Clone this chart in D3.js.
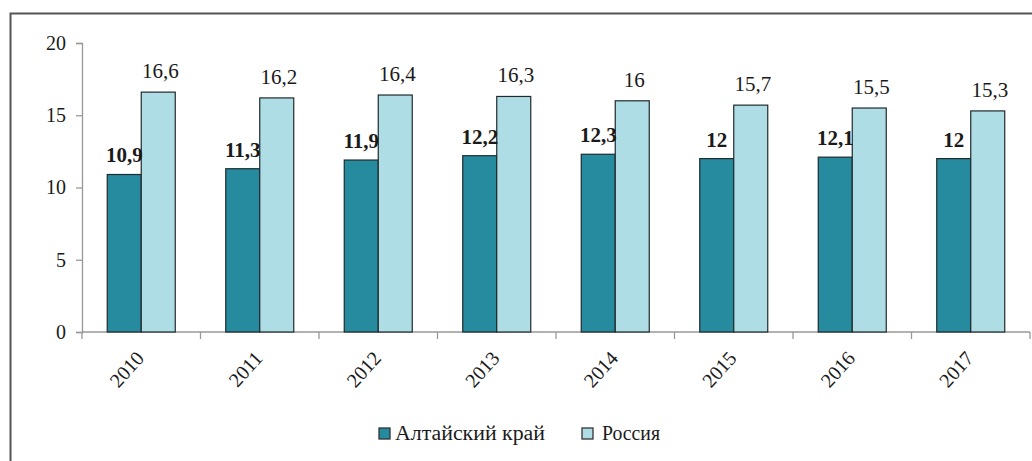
<!DOCTYPE html>
<html>
<head>
<meta charset="utf-8">
<script src="https://cdn.jsdelivr.net/npm/d3@7"></script>
</head>
<body style="margin:0">
<svg width="1032" height="461"></svg>
<script>
const years = ["2010", "2011", "2012", "2013", "2014", "2015", "2016", "2017"];
const altai = [10.9, 11.3, 11.9, 12.2, 12.3, 12, 12.1, 12];
const russia = [16.6, 16.2, 16.4, 16.3, 16, 15.7, 15.5, 15.3];
const seriesNames = ["Алтайский край", "Россия"];
const colors = ["#268b9f", "#afdde5"];
const yTicks = [0, 5, 10, 15, 20];

const svg = d3.select("svg");
const serif = "'Liberation Serif', 'Times New Roman', serif";
const ink = "#1a1a1a";
const fmt = (v) => String(v).replace(".", ",");

// outer frame (cut off on the right and bottom)
svg.append("path")
  .attr("d", "M10.5,461 V13.5 H1032")
  .attr("fill", "none")
  .attr("stroke", "#555")
  .attr("stroke-width", 2);

const x = d3.scaleBand().domain(years).range([82, 1030]);
const y = d3.scaleLinear().domain([0, 20]).range([332, 43]);
const barW = 34;

// y axis
const yAxis = svg.append("g")
  .attr("transform", "translate(82,0)")
  .call(d3.axisLeft(y).tickValues(yTicks).tickSize(6).tickPadding(10));
yAxis.attr("font-family", null).style("font-family", serif);
yAxis.select(".domain").attr("stroke", "#999").attr("stroke-width", 1.3);
yAxis.selectAll(".tick line").attr("stroke", "#999").attr("stroke-width", 1.3);
yAxis.selectAll(".tick text")
  .style("font-family", serif)
  .style("font-size", "20px")
  .attr("fill", ink);

// x axis with ticks at category boundaries
const xg = svg.append("g");
xg.append("line")
  .attr("x1", 82).attr("x2", 1030)
  .attr("y1", y(0)).attr("y2", y(0))
  .attr("stroke", "#999").attr("stroke-width", 1.5);
xg.selectAll(".xt")
  .data(years.concat(["end"]))
  .enter()
  .append("line")
  .attr("x1", (d, i) => 82 + i * x.bandwidth())
  .attr("x2", (d, i) => 82 + i * x.bandwidth())
  .attr("y1", y(0)).attr("y2", y(0) + 7)
  .attr("stroke", "#999").attr("stroke-width", 1.3);

xg.selectAll(".yl")
  .data(years)
  .enter()
  .append("text")
  .attr("text-anchor", "end")
  .style("font-family", serif)
  .style("font-size", "20px")
  .attr("fill", ink)
  .attr("transform", (d) => `translate(${x(d) + x.bandwidth() / 2 + 4},${y(0) + 27}) rotate(-48)`)
  .text((d) => d);

// bars
const groups = svg.selectAll(".grp")
  .data(years)
  .enter()
  .append("g")
  .attr("transform", (d) => `translate(${x(d) + x.bandwidth() / 2 - barW},0)`);

groups.append("rect")
  .attr("x", 0)
  .attr("y", (d, i) => y(altai[i]))
  .attr("width", barW)
  .attr("height", (d, i) => y(0) - y(altai[i]))
  .attr("fill", colors[0])
  .attr("stroke", "#1f2a2c")
  .attr("stroke-width", 1.2);

groups.append("rect")
  .attr("x", barW)
  .attr("y", (d, i) => y(russia[i]))
  .attr("width", barW)
  .attr("height", (d, i) => y(0) - y(russia[i]))
  .attr("fill", colors[1])
  .attr("stroke", "#1f2a2c")
  .attr("stroke-width", 1.2);

// value labels
groups.append("text")
  .attr("x", barW / 2)
  .attr("y", (d, i) => y(altai[i]) - 12)
  .attr("text-anchor", "middle")
  .style("font-family", serif)
  .style("font-size", "21px")
  .style("font-weight", "bold")
  .attr("fill", ink)
  .text((d, i) => fmt(altai[i]));

groups.append("text")
  .attr("x", barW * 1.5 + 2)
  .attr("y", (d, i) => y(russia[i]) - 14)
  .attr("text-anchor", "middle")
  .style("font-family", serif)
  .style("font-size", "21px")
  .attr("fill", ink)
  .text((d, i) => fmt(russia[i]));

// legend
const legendX = [379, 582];
const legendW = [150, 58];
const legend = svg.selectAll(".lg")
  .data(seriesNames)
  .enter()
  .append("g")
  .attr("transform", (d, i) => `translate(${legendX[i]},428)`);
legend.append("rect")
  .attr("width", 11).attr("height", 11)
  .attr("fill", (d, i) => colors[i])
  .attr("stroke", "#333").attr("stroke-width", 1.3);
legend.append("text")
  .attr("x", (d, i) => i === 0 ? 16 : 20)
  .attr("y", 12)
  .style("font-family", serif)
  .style("font-size", "20px")
  .attr("fill", ink)
  .attr("textLength", (d, i) => legendW[i])
  .attr("lengthAdjust", "spacingAndGlyphs")
  .text((d) => d);
</script>
</body>
</html>
